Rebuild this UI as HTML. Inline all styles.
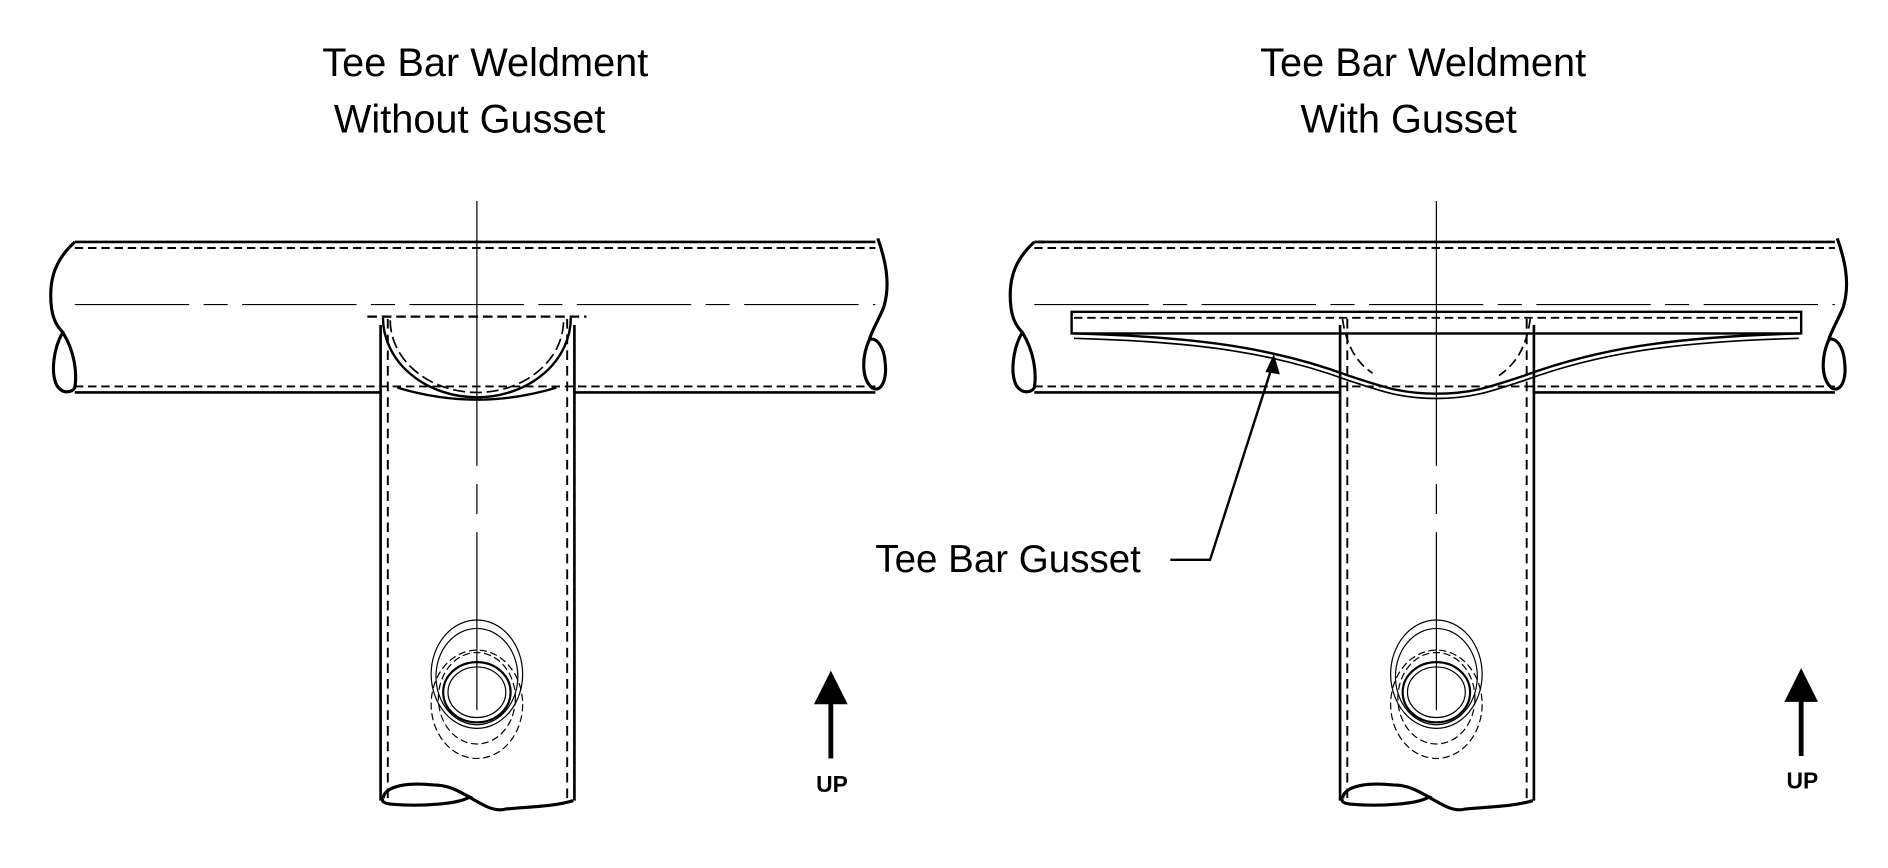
<!DOCTYPE html>
<html><head><meta charset="utf-8"><style>
html,body{margin:0;padding:0;background:#fff;}
svg{display:block;}
text{font-family:"Liberation Sans",sans-serif;fill:#000;}
</style></head><body>
<svg width="1888" height="868" viewBox="0 0 1568 721" xmlns="http://www.w3.org/2000/svg">
<defs>
<g id="tee" fill="none" stroke="#000">
  <!-- horizontal pipe -->
  <line x1="62" y1="201" x2="727" y2="201" stroke-width="2.2"/>
  <line x1="62" y1="206" x2="727" y2="206" stroke-width="1.6" stroke-dasharray="7,4"/>
  <line x1="62" y1="326" x2="316" y2="326" stroke-width="2.2"/>
  <line x1="477" y1="326" x2="727" y2="326" stroke-width="2.2"/>
  <line x1="62" y1="321" x2="727" y2="321" stroke-width="1.6" stroke-dasharray="7,4"/>
  <line x1="62" y1="253" x2="727" y2="253" stroke-width="1" stroke-dasharray="95,12,20,12"/>
  <!-- left break -->
  <path d="M62,201 C50,212 42,225 42,245 C42,262 46,270 52,276 C44,290 42,310 47,320 C52,328 60,326 62,322 C64,310 62,292 52,276" stroke-width="2.6"/>
  <!-- right break -->
  <path d="M729,198 C735,215 740,235 734,255 C730,265 724,275 722,282 C715,298 716,315 724,322 C732,327 737,315 735,300 C734,288 728,280 722,282" stroke-width="2.6"/>
  <!-- vertical pipe -->
  <line x1="316" y1="270" x2="316" y2="665" stroke-width="2.2"/>
  <line x1="477" y1="270" x2="477" y2="665" stroke-width="2.2"/>
  <line x1="322" y1="265" x2="322" y2="665" stroke-width="1.6" stroke-dasharray="8,5"/>
  <line x1="471" y1="265" x2="471" y2="665" stroke-width="1.6" stroke-dasharray="8,5"/>
  <!-- vertical centerline -->
  <line x1="396" y1="167" x2="396" y2="590" stroke-width="1" stroke-dasharray="220,15,25,15"/>
  <!-- hole -->
  <g stroke-width="1">
    <ellipse cx="396" cy="560" rx="38" ry="45"/>
    <ellipse cx="396" cy="562" rx="34" ry="40"/>
    <ellipse cx="396" cy="575" rx="28" ry="25" stroke-width="1.8"/>
    <ellipse cx="396" cy="575" rx="24" ry="21"/>
    <ellipse cx="396" cy="585" rx="38" ry="45" stroke-dasharray="6,3"/>
    <ellipse cx="396" cy="580" rx="32" ry="38" stroke-dasharray="6,3"/>
  </g>
  <!-- bottom break -->
  <path d="M318,663 C320,652 340,650 360,652 C375,652 385,660 390,662 C380,668 350,670 325,668 C315,667 318,663 318,663 M386,660 C400,668 410,675 420,672 C440,670 460,670 476,665" stroke-width="2.6"/>
</g>
</defs>

<text x="403" y="63" font-size="33" text-anchor="middle">Tee Bar Weldment</text>
<text x="390" y="110" font-size="33" text-anchor="middle">Without Gusset</text>
<text x="1182" y="63" font-size="33" text-anchor="middle">Tee Bar Weldment</text>
<text x="1170" y="110" font-size="33" text-anchor="middle">With Gusset</text>

<use href="#tee"/>
<!-- left joint -->
<g fill="none" stroke="#000">
  <line x1="305" y1="263" x2="487" y2="263" stroke-width="1.8" stroke-dasharray="8,4"/>
  <path d="M318,264 A78,66 0 0 0 474,264" stroke-width="2"/>
  <path d="M324,266 A72,60 0 0 0 468,266" stroke-width="1.4" stroke-dasharray="10,4"/>
  <path d="M330,322 Q396,342 462,322" stroke-width="2"/>
</g>

<g transform="translate(797,0)"><use href="#tee"/></g>
<!-- right joint and gusset -->
<g fill="none" stroke="#000">
  <line x1="862" y1="201" x2="868" y2="201" stroke-width="2.2"/>
  <path d="M1115,265 C1118,285 1125,300 1140,310 M1271,265 C1268,285 1262,300 1245,312" stroke-width="1.4" stroke-dasharray="8,4"/>
  <rect x="890" y="259" width="606" height="18" stroke-width="2"/>
  <line x1="892" y1="264" x2="1494" y2="264" stroke-width="1.6" stroke-dasharray="7,4"/>
  <path d="M892,277 C1000,280 1060,290 1120,312 C1150,322 1165,327 1193,327 C1221,327 1236,322 1266,312 C1326,290 1386,280 1494,277" stroke-width="2"/>
  <path d="M892,281 C1000,284 1060,294 1120,316 C1150,326 1165,331 1193,331 C1221,331 1236,326 1266,316 C1326,294 1386,284 1494,281" stroke-width="1.4"/>
  <!-- leader -->
  <polyline points="1057,303 1005,465 972,465" stroke-width="2"/>
</g>
<polygon points="1058,294 1051,309 1063,311" fill="#000"/>
<text x="727" y="475" font-size="32">Tee Bar Gusset</text>

<!-- UP arrows -->
<g fill="#000">
  <polygon points="690,557 676,585 704,585"/>
  <rect x="688" y="584" width="4" height="46"/>
  <polygon points="1496,555 1482,583 1510,583"/>
  <rect x="1494" y="582" width="4" height="46"/>
</g>
<text x="691" y="658" font-size="19" font-weight="bold" text-anchor="middle">UP</text>
<text x="1497" y="655" font-size="19" font-weight="bold" text-anchor="middle">UP</text>
</svg>
</body></html>
